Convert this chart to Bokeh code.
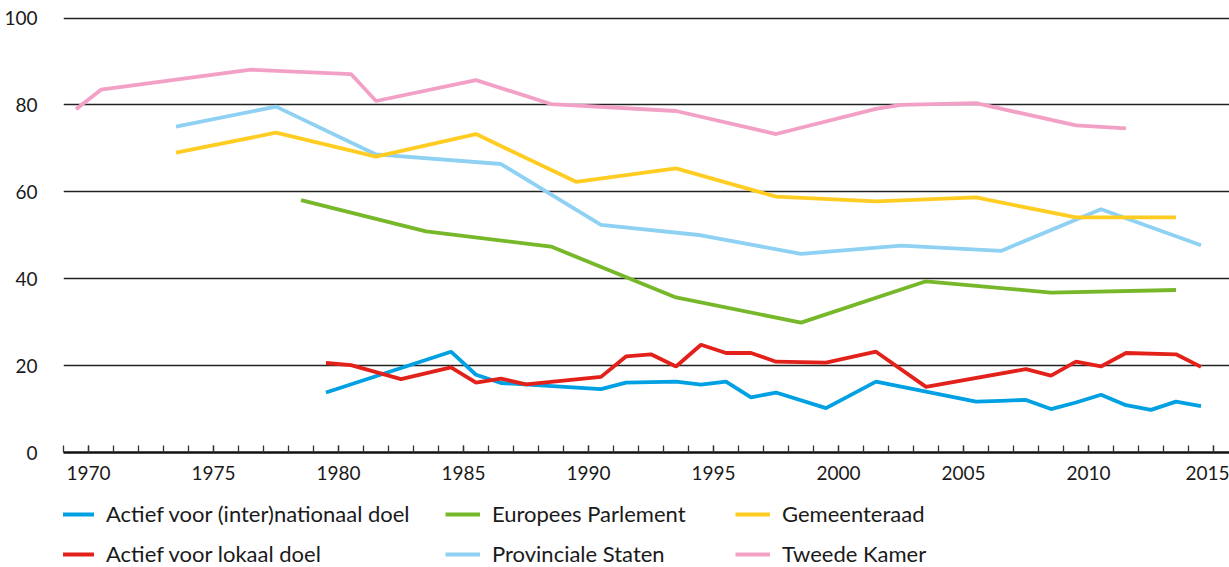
from bokeh.plotting import figure
from bokeh.models import Range1d, FixedTicker, Legend, LegendItem
from bokeh.layouts import column
from bokeh.embed import file_html
from bokeh.resources import INLINE

# ---- data (x positions as plotted on the year axis) ----
inter_years = [1979.5, 1984.5, 1985.5, 1986.5, 1990.5, 1991.5, 1993.5, 1994.5, 1995.5, 1996.5,
               1997.5, 1999.5, 2001.5, 2005.5, 2006.5, 2007.5, 2008.5, 2009.5, 2010.5, 2011.5,
               2012.5, 2013.5, 2014.5]
inter_vals = [13.8, 23.2, 17.9, 16.0, 14.6, 16.1, 16.3, 15.6, 16.3, 12.7,
              13.8, 10.2, 16.3, 11.7, 11.9, 12.1, 10.0, 11.5, 13.3, 10.9,
              9.8, 11.7, 10.7]

lokaal_years = [1979.5, 1980.5, 1982.5, 1984.5, 1985.5, 1986.5, 1987.5, 1990.5, 1991.5, 1992.5,
                1993.5, 1994.5, 1995.5, 1996.5, 1997.5, 1999.5, 2001.5, 2003.5, 2007.5, 2008.5,
                2009.5, 2010.5, 2011.5, 2013.5, 2014.5]
lokaal_vals = [20.6, 20.1, 16.9, 19.6, 16.1, 17.0, 15.7, 17.4, 22.1, 22.6,
               19.8, 24.8, 22.9, 22.9, 20.9, 20.7, 23.2, 15.1, 19.2, 17.7,
               20.9, 19.8, 22.9, 22.6, 19.7]

ep_years = [1978.5, 1983.5, 1988.5, 1993.5, 1998.5, 2003.5, 2008.5, 2013.5]
ep_vals = [58.1, 50.9, 47.4, 35.7, 29.9, 39.4, 36.8, 37.4]

ps_years = [1973.5, 1977.5, 1981.5, 1986.5, 1990.5, 1994.5, 1998.5, 2002.5, 2006.5, 2010.5, 2014.5]
ps_vals = [75.0, 79.6, 68.6, 66.4, 52.4, 50.0, 45.7, 47.6, 46.4, 56.0, 47.7]

gem_years = [1973.5, 1977.5, 1981.5, 1985.5, 1989.5, 1993.5, 1997.5, 2001.5, 2005.5, 2009.5, 2013.5]
gem_vals = [69.0, 73.6, 68.1, 73.3, 62.3, 65.4, 58.9, 57.8, 58.7, 54.1, 54.1]

tk_years = [1969.5, 1970.5, 1976.5, 1980.5, 1981.5, 1985.5, 1988.5, 1993.5, 1997.5, 2001.5,
            2002.5, 2005.5, 2009.5, 2011.5]
tk_vals = [79.0, 83.5, 88.1, 87.1, 80.9, 85.7, 80.2, 78.6, 73.3, 79.1,
           80.0, 80.4, 75.3, 74.6]

x_ticks = [1970, 1975, 1980, 1985, 1990, 1995, 2000, 2005, 2010, 2015]
x_minor = list(range(1969, 2016))
y_ticks = [0, 20, 40, 60, 80, 100]

labels = ["Actief voor (inter)nationaal doel", "Actief voor lokaal doel",
          "Europees Parlement", "Provinciale Staten",
          "Gemeenteraad", "Tweede Kamer"]
colors = ["#00a0e2", "#e3211b", "#76b82a", "#8ed1f3", "#ffcc21", "#f3a0c7"]

FONT = "Lato"
TXT = "#1a1a1a"

p = figure(width=1229, height=490, output_backend="svg", toolbar_location=None,
           x_range=Range1d(1969, 2015.64), y_range=Range1d(0, 101.5),
           min_border_left=63, min_border_right=0, min_border_top=11, min_border_bottom=38)
p.outline_line_color = None

p.xgrid.visible = False
p.ygrid.ticker = FixedTicker(ticks=y_ticks)
p.ygrid.grid_line_color = "#222222"
p.ygrid.grid_line_width = 1.3

p.yaxis.ticker = FixedTicker(ticks=y_ticks)
p.yaxis.axis_line_color = None
p.yaxis.major_tick_line_color = None
p.yaxis.minor_tick_line_color = None
p.yaxis.major_label_standoff = 20
p.yaxis.major_label_text_font = FONT
p.yaxis.major_label_text_font_size = "19px"
p.yaxis.major_label_text_color = TXT

p.xaxis.ticker = FixedTicker(ticks=x_ticks, minor_ticks=x_minor)
p.xaxis.axis_line_color = "#111111"
p.xaxis.axis_line_width = 2.5
p.xaxis.major_tick_in = 7
p.xaxis.major_tick_out = 0
p.xaxis.minor_tick_in = 7
p.xaxis.minor_tick_out = 0
p.xaxis.major_tick_line_color = "#333333"
p.xaxis.minor_tick_line_color = "#333333"
p.xaxis.major_tick_line_width = 1.3
p.xaxis.minor_tick_line_width = 1.3
p.xaxis.major_label_standoff = 13
p.xaxis.major_label_text_font = FONT
p.xaxis.major_label_text_font_size = "19px"
p.xaxis.major_label_text_color = TXT

series = [(inter_years, inter_vals), (lokaal_years, lokaal_vals), (ep_years, ep_vals),
          (ps_years, ps_vals), (gem_years, gem_vals), (tk_years, tk_vals)]
draw_order = [5, 3, 4, 2, 0, 1]
for i in draw_order:
    xs, ys = series[i]
    p.line(xs, ys, line_color=colors[i], line_width=3.8)

# ---- legend strip below the chart (its frame is aligned with the chart frame) ----
lg_fig = figure(width=1229, height=77, output_backend="svg", toolbar_location=None,
                x_range=Range1d(0, 1), y_range=Range1d(0, 1),
                min_border_left=0, min_border_right=0,
                min_border_top=0, min_border_bottom=0)
lg_fig.axis.visible = False
lg_fig.grid.visible = False
lg_fig.outline_line_color = None

# key renderers: same series, but outside this strip's visible range (only their legend glyphs show)
keys = [lg_fig.line(series[i][0], series[i][1], line_color=colors[i], line_width=3.8)
        for i in range(6)]

legend_x = [-4, 382, 672]
for col in range(3):
    items = [LegendItem(label=labels[2 * col + r], renderers=[keys[2 * col + r]]) for r in range(2)]
    lg = Legend(items=items, location=(legend_x[col], 0), orientation="vertical",
                border_line_color=None, background_fill_alpha=0, padding=0, margin=0,
                spacing=13, glyph_width=35, glyph_height=24, label_height=24,
                label_standoff=12, label_text_font=FONT, label_text_font_size="22px",
                label_text_color=TXT)
    lg_fig.add_layout(lg, "center")

open("out.html", "w").write(file_html(column(p, lg_fig, spacing=0), INLINE))
